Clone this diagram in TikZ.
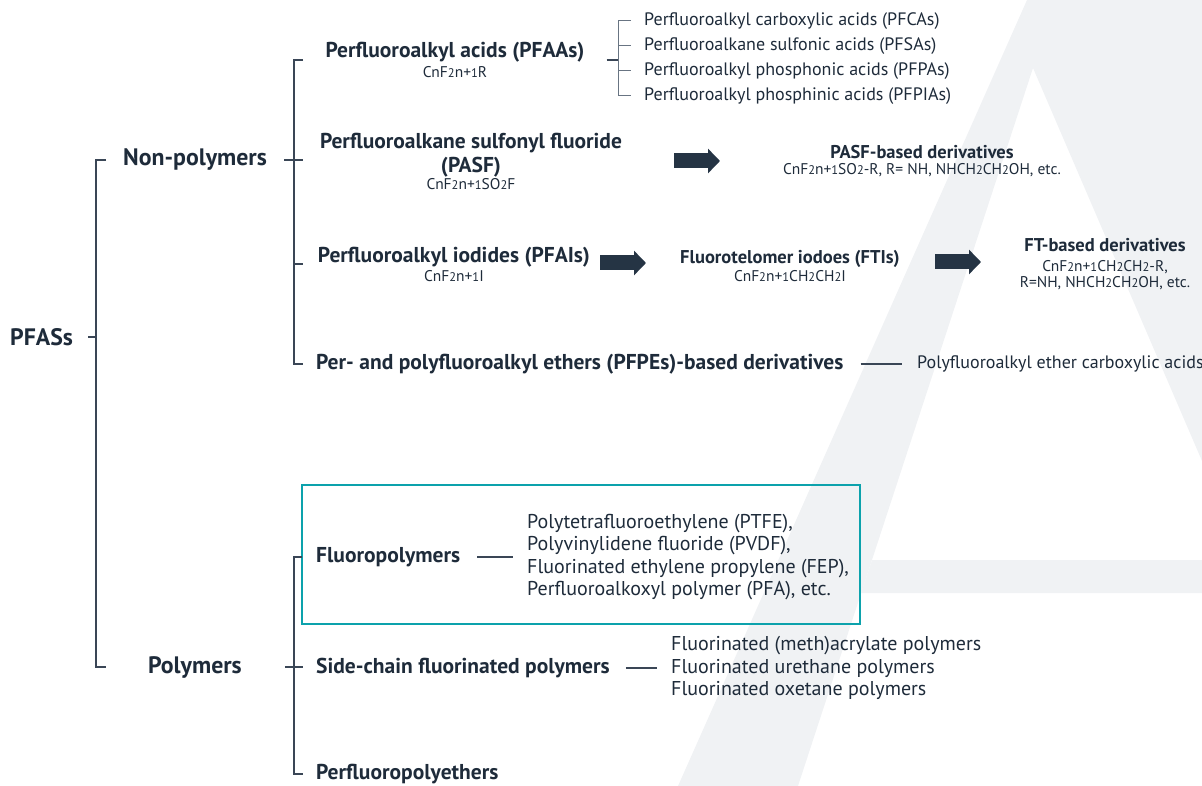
\documentclass[tikz,border=0pt]{standalone}
\usepackage{fontspec}
\setmainfont{PT Sans}
\usetikzlibrary{arrows.meta,positioning}
\definecolor{inkblue}{RGB}{30,43,58}
\definecolor{branchgray}{RGB}{58,70,86}
\definecolor{twiggray}{RGB}{104,116,130}
\definecolor{arrowblue}{RGB}{37,52,68}
\definecolor{boxteal}{RGB}{12,162,172}
\definecolor{faintgray}{RGB}{240,242,244}
\newcommand{\lo}[1]{{\fontsize{12.5}{12.5}\selectfont #1}}
\newcommand{\formfont}{\mdseries\fontsize{15.5}{16.5}\selectfont}
\tikzstyle{head}=[text=inkblue,font=\bfseries\fontsize{23.8}{28}\selectfont,inner sep=0pt]
\tikzstyle{group}=[text=inkblue,font=\bfseries\fontsize{21.5}{20}\selectfont,inner sep=0pt,align=center]
\tikzstyle{dgroup}=[text=inkblue,font=\bfseries\fontsize{18.5}{16}\selectfont,inner sep=0pt,align=center]
\tikzstyle{item}=[text=inkblue,font=\fontsize{18}{22.4}\selectfont,inner sep=0pt,align=left]
\tikzstyle{bigitem}=[text=inkblue,font=\fontsize{20}{22.4}\selectfont,inner sep=0pt,align=left]
\tikzstyle{branch}=[draw=branchgray,line width=1.2pt]
\tikzstyle{twig}=[draw=twiggray,line width=1pt]
\tikzstyle{link}=[draw=branchgray,line width=1.1pt]
\tikzstyle{fat}=[draw=arrowblue,line width=15pt,-{Triangle[length=12pt,width=24pt]}]
\tikzstyle{tealbox}=[draw=boxteal,line width=2.5pt]

\begin{document}
\begin{tikzpicture}[x=1pt,y=-1pt]
\useasboundingbox (0,0) rectangle (1202,786);
% faint letter behind the tree
\fill[faintgray] (678,786) -- (1027,0) -- (1202,0) -- (1202,461) -- (1033,68) -- (798,786) -- cycle;
\fill[faintgray] (872,560) -- (1202,560) -- (1202,593) -- (861,593) -- cycle;

% root and first level
\draw (10,337) node [head,anchor=west] (pfas) {PFASs};
\draw (123,160) node [head,anchor=west] (nonpoly) {Non-polymers};
\draw (148,667) node [head,anchor=west] (poly) {Polymers};
\coordinate (sa) at (96,0);
\draw[branch,shorten <=15pt] (pfas.east) -- (pfas.east -| sa);
\draw[branch] ([xshift=10pt]sa |- nonpoly) -- (sa |- nonpoly) -- (sa |- poly) -- ([xshift=10pt]sa |- poly);

% non-polymers
\draw (455,60) node [group] (pfaa) {Perfluoroalkyl acids (PFAAs)\\{\formfont CnF\lo{2}n+\lo{1}R}};
\draw (471,161) node [group] (pasf) {Perfluoroalkane sulfonyl fluoride\\[4pt](PASF)\\[-3pt]{\formfont CnF\lo{2}n+\lo{1}SO\lo{2}F}};
\draw (454,264) node [group] (pfai) {Perfluoroalkyl iodides (PFAIs)\\[-1pt]{\formfont CnF\lo{2}n+\lo{1}I}};
\draw (316,364) node [group,anchor=west] (pfpe) {Per- and polyfluoroalkyl ethers (PFPEs)-based derivatives};
\coordinate (sb) at (294,0);
\draw[branch,shorten <=17pt] (nonpoly.east) -- ([xshift=9pt]sb |- nonpoly);
\draw[branch] ([xshift=9pt]sb |- pfaa) -- (sb |- pfaa) -- (sb |- pfpe) -- ([xshift=9pt]sb |- pfpe);
\draw[branch] (sb |- pfai) -- ([xshift=9pt]sb |- pfai);

% kinds of PFAAs
\draw (644,21) node [item,anchor=west] (pfca) {Perfluoroalkyl carboxylic acids (PFCAs)};
\draw (644,46) node [item,anchor=west] (pfsa) {Perfluoroalkane sulfonic acids (PFSAs)};
\draw (644,71) node [item,anchor=west] (pfpa) {Perfluoroalkyl phosphonic acids (PFPAs)};
\draw (644,96) node [item,anchor=west] (pfpia) {Perfluoroalkyl phosphinic acids (PFPIAs)};
\coordinate (sc) at (618,0);
\draw[branch,shorten <=22pt] (pfaa.east) -- (pfaa.east -| sc);
\draw[twig] ([xshift=-13pt]pfca.west) -- (sc |- pfca) -- (sc |- pfpia) -- ([xshift=-13pt]pfpia.west);
\draw[twig] (sc |- pfsa) -- ([xshift=-13pt]pfsa.west);
\draw[twig] (sc |- pfpa) -- ([xshift=-13pt]pfpa.west);

% derivatives
\draw (922,161) node [dgroup] (pasfd) {PASF-based derivatives\\{\formfont CnF\lo{2}n+\lo{1}SO\lo{2}-R, R= NH, NHCH\lo{2}CH\lo{2}OH, etc.}};
\draw (790,266) node [dgroup] (fti) {Fluorotelomer iodoes (FTIs)\\[2pt]{\formfont CnF\lo{2}n+\lo{1}CH\lo{2}CH\lo{2}I}};
\draw (1105,264) node [dgroup] (ftd) {FT-based derivatives\\[4pt]{\formfont CnF\lo{2}n+\lo{1}CH\lo{2}CH\lo{2}-R,}\\{\formfont R=NH, NHCH\lo{2}CH\lo{2}OH, etc.}};
\draw (917,364) node [item,anchor=west] (ether) {Polyfluoroalkyl ether carboxylic acids};
\coordinate (a1) at (674,161);
\coordinate (a2) at (720,161);
\coordinate (a3) at (600,263);
\coordinate (a4) at (646,263);
\coordinate (a5) at (935,262);
\coordinate (a6) at (981,262);
\draw[fat] (a1) -- (a2);
\draw[fat] (a3) -- (a4);
\draw[fat] (a5) -- (a6);
\draw[link,shorten <=17pt,shorten >=15pt] (pfpe.east) -- (ether.west);

% polymers
\draw (316,557) node [group,anchor=west] (fluoro) {Fluoropolymers};
\draw (527,557) node [bigitem,anchor=west] (fluorolist) {Polytetrafluoroethylene (PTFE),\\Polyvinylidene fluoride (PVDF),\\Fluorinated ethylene propylene (FEP),\\Perfluoroalkoxyl polymer (PFA), etc.};
\draw[tealbox] (302,485) rectangle (860,624);
\draw (316,668) node [group,anchor=west] (side) {Side-chain fluorinated polymers};
\draw (671,668) node [bigitem,anchor=west] (sidelist) {Fluorinated (meth)acrylate polymers\\Fluorinated urethane polymers\\Fluorinated oxetane polymers};
\draw (316,774) node [group,anchor=west] (pfpeth) {Perfluoropolyethers};
\coordinate (sd) at (294,0);
\draw[branch,shorten <=43pt] (poly.east) -- ([xshift=9pt]sd |- poly);
\draw[branch] ([xshift=8pt]sd |- fluoro) -- (sd |- fluoro) -- (sd |- pfpeth) -- ([xshift=9pt]sd |- pfpeth);
\draw[link,shorten <=17pt,shorten >=14pt] (fluoro.east) -- (fluorolist.west);
\draw[link,shorten <=16pt,shorten >=14pt] (side.east) -- (sidelist.west);
\end{tikzpicture}
\end{document}
